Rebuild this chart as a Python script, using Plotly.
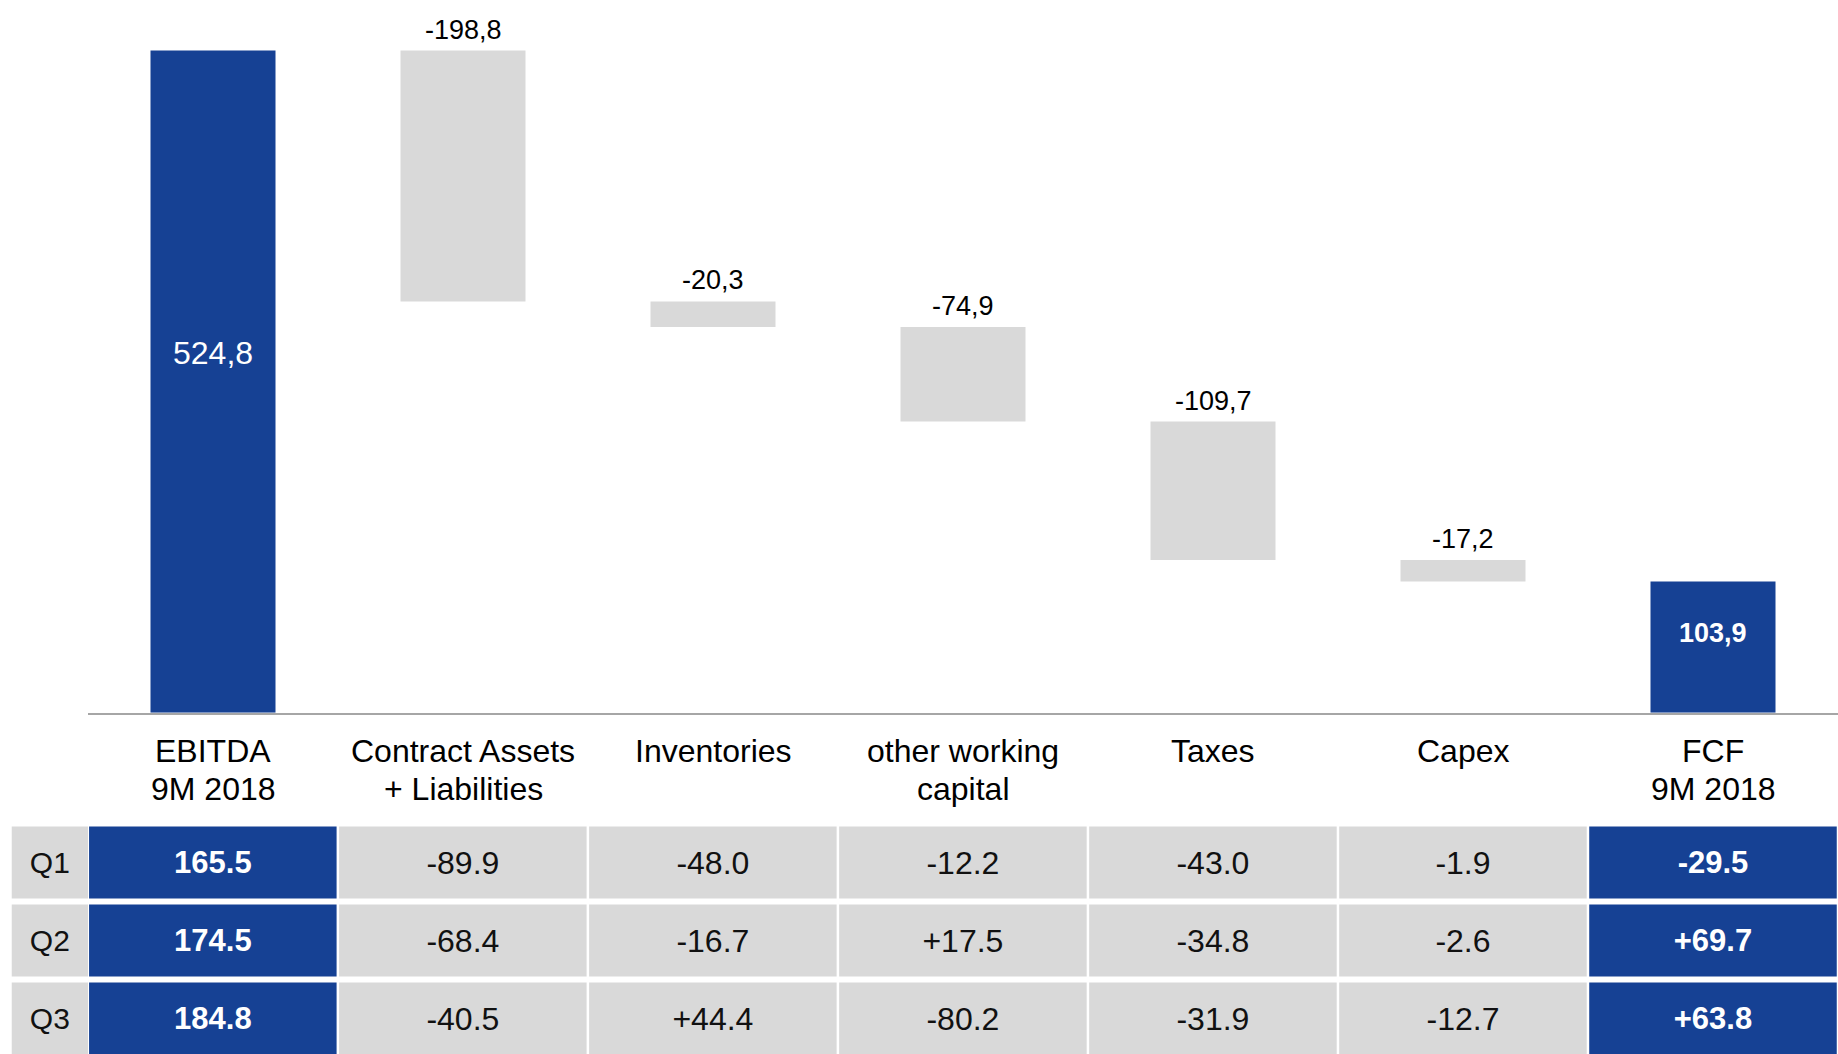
import plotly.graph_objects as go

# ---------------- data ----------------
categories = ["EBITDA<br>9M 2018", "Contract Assets<br>+ Liabilities", "Inventories",
              "other working<br>capital", "Taxes", "Capex", "FCF<br>9M 2018"]
values = [524.8, -198.8, -20.3, -74.9, -109.7, -17.2, 103.9]
measures = ["total", "relative", "relative", "relative", "relative", "relative", "total"]

quarters = ["Q1", "Q2", "Q3"]
q_ebitda = [165.5, 174.5, 184.8]
q_contract = [-89.9, -68.4, -40.5]
q_inventories = [-48.0, -16.7, 44.4]
q_other_wc = [-12.2, 17.5, -80.2]
q_taxes = [-43.0, -34.8, -31.9]
q_capex = [-1.9, -2.6, -12.7]
q_fcf = [-29.5, 69.7, 63.8]

# ---------------- styles ----------------
BLUE = "#164194"
GREY = "#D9D9D9"
FONT = "Liberation Sans, Arial, sans-serif"
W, H = 1838, 1054

def fmt_comma(v):
    return f"{v:.1f}".replace(".", ",")

# ---------------- waterfall bars ----------------
xs = list(range(len(values)))
bases, heights, colors, tops = [], [], [], []
running = 0.0
for v, m in zip(values, measures):
    if m == "total":
        bases.append(0.0)
        heights.append(v)
        colors.append(BLUE)
        tops.append(v)
        running = v
    else:
        tops.append(running)
        bases.append(running + v)
        heights.append(-v)
        colors.append(GREY)
        running += v

fig = go.Figure()
fig.add_trace(go.Bar(
    x=xs, y=heights, base=bases, width=0.5,
    marker=dict(color=colors, line=dict(width=0)),
    xaxis="x", yaxis="y", hoverinfo="skip", showlegend=False,
))

annotations = []
n_tot = 0
for i, (v, m) in enumerate(zip(values, measures)):
    if m == "total":
        bold = n_tot > 0
        txt = fmt_comma(v)
        annotations.append(dict(
            x=i, y=v / 2, xref="x", yref="y", text=f"<b>{txt}</b>" if bold else txt,
            showarrow=False, yanchor="middle", yshift=14 if bold else 29,
            font=dict(family=FONT, size=27 if bold else 32, color="white"),
        ))
        n_tot += 1
    else:
        annotations.append(dict(
            x=i, y=tops[i], xref="x", yref="y", text=fmt_comma(v),
            showarrow=False, yanchor="bottom", yshift=4,
            font=dict(family=FONT, size=27, color="black"),
        ))

# category labels (each line as own annotation to control line spacing)
line_px = [751, 789]
for i, c in enumerate(categories):
    for j, part in enumerate(c.split("<br>")):
        annotations.append(dict(
            x=i, y=1 - line_px[j] / H, xref="x", yref="paper", text=part,
            showarrow=False, yanchor="middle", xanchor="center",
            font=dict(family=FONT, size=32, color="black"),
        ))

# ---------------- table (bars on second axes) ----------------
columns = [q_ebitda, q_contract, q_inventories, q_other_wc, q_taxes, q_capex, q_fcf]
cell_x, cell_w, cell_base, cell_h, cell_text, cell_col, cell_fc, cell_fs = [], [], [], [], [], [], [], []
ROW_H = 0.923
for r, q in enumerate(quarters):
    cell_x.append(-0.6518)
    cell_w.append(0.305)
    cell_base.append(r - ROW_H / 2)
    cell_h.append(ROW_H)
    cell_text.append(q)
    cell_col.append(GREY)
    cell_fc.append("#111111")
    cell_fs.append(30)
    for ci, col in enumerate(columns):
        v = col[r]
        is_total = measures[ci] == "total"
        s = f"{v:.1f}" if ci == 0 else f"{v:+.1f}"
        cell_x.append(ci)
        cell_w.append(0.99)
        cell_base.append(r - ROW_H / 2)
        cell_h.append(ROW_H)
        cell_text.append(f"<b>{s}</b>" if is_total else s)
        cell_col.append(BLUE if is_total else GREY)
        cell_fc.append("white" if is_total else "#111111")
        cell_fs.append(31 if is_total else 32)

fig.add_trace(go.Bar(
    x=cell_x, y=cell_h, base=cell_base, width=cell_w,
    marker=dict(color=cell_col, line=dict(width=0)),
    text=cell_text, textposition="inside", insidetextanchor="middle", textangle=0,
    insidetextfont=dict(family=FONT, size=cell_fs, color=cell_fc),
    constraintext="none",
    xaxis="x2", yaxis="y2", hoverinfo="skip", showlegend=False,
))

# ---------------- layout ----------------
base_px = 712.7
px_per_unit = 1.2617
row0_px, pitch_px, tbl_top_px = 862.5, 78.0, 820.0

fig.update_layout(
    width=W, height=H, autosize=False,
    margin=dict(l=0, r=0, t=0, b=0),
    paper_bgcolor="white", plot_bgcolor="white",
    barmode="overlay", showlegend=False,
    font=dict(family=FONT),
    xaxis=dict(domain=[88 / W, 1], range=[-0.5, 6.5], showgrid=False, zeroline=False,
               showticklabels=False, ticks="", showline=True, linecolor="#A6A6A6",
               linewidth=2, fixedrange=True, anchor="y"),
    yaxis=dict(domain=[1 - base_px / H, 1], range=[0, base_px / px_per_unit],
               showgrid=False, zeroline=False, showticklabels=False, showline=False,
               fixedrange=True, anchor="x"),
    xaxis2=dict(domain=[0, 1], range=[-0.8512, 6.5], visible=False, anchor="y2",
                fixedrange=True),
    yaxis2=dict(domain=[0, (H - tbl_top_px) / H],
                range=[(H - row0_px) / pitch_px, -(row0_px - tbl_top_px) / pitch_px],
                visible=False, anchor="x2", fixedrange=True),
    annotations=annotations,
)

fig.write_html("out.html")
